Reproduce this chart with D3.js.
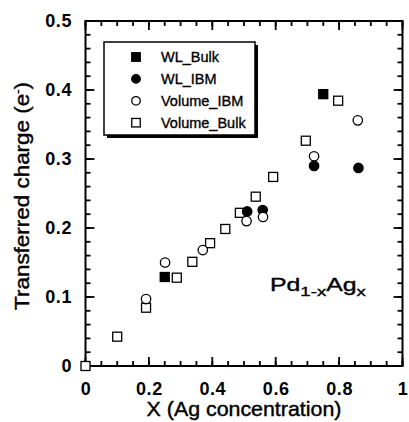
<!DOCTYPE html>
<html>
<head>
<meta charset="utf-8">
<script src="https://cdn.jsdelivr.net/npm/d3@7"></script>
<style>
  body { margin: 0; background: #fff; }
  text { font-family: Arial, "Liberation Sans", Helvetica, sans-serif; fill: #000; }
</style>
</head>
<body>
<svg id="chart" width="409" height="422"></svg>
<script>
// Transferred charge vs Ag concentration in Pd(1-x)Ag(x)
const wlBulkX = [0.25, 0.75];
const wlBulkY = [0.129, 0.394];

const wlIbmX = [0.51, 0.559, 0.721, 0.861];
const wlIbmY = [0.224, 0.226, 0.290, 0.287];

const volIbmX = [0.191, 0.251, 0.370, 0.508, 0.560, 0.721, 0.859];
const volIbmY = [0.097, 0.150, 0.168, 0.210, 0.216, 0.304, 0.356];

const volBulkX = [0, 0.100, 0.191, 0.288, 0.337, 0.393, 0.441, 0.487, 0.537, 0.592, 0.695, 0.797];
const volBulkY = [0, 0.0425, 0.0845, 0.128, 0.151, 0.178, 0.1986, 0.222, 0.2454, 0.274, 0.3265, 0.3845];

const xTicks = [0, 0.2, 0.4, 0.6, 0.8, 1];
const xTickLabels = ["0", "0.2", "0.4", "0.6", "0.8", "1"];
const yTicks = [0, 0.1, 0.2, 0.3, 0.4, 0.5];
const yTickLabels = ["0", "0.1", "0.2", "0.3", "0.4", "0.5"];

const legendNames = ["WL_Bulk", "WL_IBM", "Volume_IBM", "Volume_Bulk"];

// marker styles per series
const styles = {
  "WL_Bulk":     { shape: "square", fill: "#000" },
  "WL_IBM":      { shape: "circle", fill: "#000" },
  "Volume_IBM":  { shape: "circle", fill: "#fff" },
  "Volume_Bulk": { shape: "square", fill: "#fff" }
};

const series = [
  { name: "Volume_Bulk", xs: volBulkX, ys: volBulkY },
  { name: "WL_Bulk",     xs: wlBulkX,  ys: wlBulkY },
  { name: "WL_IBM",      xs: wlIbmX,   ys: wlIbmY },
  { name: "Volume_IBM",  xs: volIbmX,  ys: volIbmY }
];

const svg = d3.select("#chart");
const pL = 85.5, pR = 402.5, pT = 21, pB = 366;
const x = d3.scaleLinear().domain([0, 1]).range([pL, pR]);
const y = d3.scaleLinear().domain([0, 0.5]).range([pB, pT]);

function stretch(sel, target, ax, ay) {
  const w = sel.node().getComputedTextLength();
  const k = target / w;
  sel.attr("transform", `translate(${ax},${ay}) scale(${k},1) translate(${-ax},${-ay})`);
}

// inward tick marks on all four sides
const tickG = svg.append("g").attr("stroke", "#000").attr("stroke-width", 1.8);
function xTickMarks(values, len) {
  tickG.selectAll(null).data(values).enter().append("line")
    .attr("x1", d => x(d)).attr("x2", d => x(d)).attr("y1", pB).attr("y2", pB - len);
  tickG.selectAll(null).data(values).enter().append("line")
    .attr("x1", d => x(d)).attr("x2", d => x(d)).attr("y1", pT).attr("y2", pT + len);
}
function yTickMarks(values, len) {
  tickG.selectAll(null).data(values).enter().append("line")
    .attr("y1", d => y(d)).attr("y2", d => y(d)).attr("x1", pL).attr("x2", pL + len);
  tickG.selectAll(null).data(values).enter().append("line")
    .attr("y1", d => y(d)).attr("y2", d => y(d)).attr("x1", pR).attr("x2", pR - len);
}
xTickMarks(x.ticks(20), 5);
yTickMarks(y.ticks(25), 5);
xTickMarks(xTicks, 9);
yTickMarks(yTicks, 9);

// tick labels via d3 axes (labels only)
const xAxis = svg.append("g").attr("transform", `translate(0,${pB})`)
  .call(d3.axisBottom(x).tickValues(xTicks).tickFormat((d, i) => xTickLabels[i])
    .tickSize(0).tickPadding(16.5));
xAxis.select(".domain").remove();
xAxis.selectAll("text").attr("font-size", 18).attr("font-family", null)
  .attr("font-weight", "bold").style("letter-spacing", "0.6px");

const yAxis = svg.append("g").attr("transform", `translate(${pL},0)`)
  .call(d3.axisLeft(y).tickValues(yTicks).tickFormat((d, i) => yTickLabels[i])
    .tickSize(0).tickPadding(13.5));
yAxis.select(".domain").remove();
yAxis.selectAll("text").attr("font-size", 18).attr("font-family", null)
  .attr("font-weight", "bold").style("letter-spacing", "0.6px");

// plot frame
svg.append("rect")
  .attr("x", pL).attr("y", pT)
  .attr("width", pR - pL).attr("height", pB - pT)
  .attr("fill", "none").attr("stroke", "#000").attr("stroke-width", 2);

// markers
function drawMarker(g, shape, fill, cx, cy, size) {
  if (shape === "square") {
    g.append("rect")
      .attr("x", cx - size / 2).attr("y", cy - size / 2)
      .attr("width", size).attr("height", size)
      .attr("fill", fill).attr("stroke", "#000").attr("stroke-width", 1.3);
  } else {
    g.append("circle")
      .attr("cx", cx).attr("cy", cy).attr("r", size / 2)
      .attr("fill", fill).attr("stroke", "#000").attr("stroke-width", 1.3);
  }
}

const marks = svg.append("g");
series.forEach(s => {
  const st = styles[s.name];
  s.xs.forEach((xv, i) => {
    drawMarker(marks, st.shape, st.fill, x(xv), y(s.ys[i]), st.shape === "square" ? 9 : 9.4);
  });
});

// legend
const lg = svg.append("g");
const lx = 104, ly = 42, lw = 151, lh = 93;
lg.append("rect").attr("x", lx + 3).attr("y", ly + 3).attr("width", lw).attr("height", lh)
  .attr("fill", "#000");
lg.append("rect").attr("x", lx).attr("y", ly).attr("width", lw).attr("height", lh)
  .attr("fill", "#fff").attr("stroke", "#000").attr("stroke-width", 1.5);
legendNames.forEach((name, i) => {
  const ry = 57 + i * 21.9;
  const st = styles[name];
  drawMarker(lg, st.shape, st.fill, 136, ry, 8.5);
  lg.append("text").attr("x", 161).attr("y", ry + 5)
    .attr("font-size", 14.5).attr("stroke", "#000").attr("stroke-width", 0.35)
    .text(name);
});

// composition label
const comp = svg.append("text").attr("x", 270).attr("y", 290.7).attr("font-size", 18)
  .attr("stroke", "#000").attr("stroke-width", 0.35);
comp.append("tspan").text("Pd");
comp.append("tspan").attr("font-size", 13.5).attr("dy", 5.5).text("1-x");
comp.append("tspan").attr("dy", -5.5).text("Ag");
comp.append("tspan").attr("font-size", 13.5).attr("dy", 5.5).text("x");
stretch(comp, 96, 270, 290.7);

// axis titles
const xTitle = svg.append("text").attr("x", 244).attr("y", 416)
  .attr("text-anchor", "middle").attr("font-size", 20)
  .attr("stroke", "#000").attr("stroke-width", 0.4)
  .text("X (Ag concentration)");
stretch(xTitle, 195, 244, 416);

const yTitle = svg.append("text").attr("x", 0).attr("y", 0)
  .attr("text-anchor", "middle").attr("font-size", 19.5)
  .attr("stroke", "#000").attr("stroke-width", 0.4);
yTitle.append("tspan").text("Transferred charge (e");
yTitle.append("tspan").attr("font-size", 11).attr("dy", -8).text("-");
yTitle.append("tspan").attr("dy", 8).text(")");
{
  const w = yTitle.node().getComputedTextLength();
  const k = 228 / w;
  yTitle.attr("transform", `translate(29.3,196) rotate(-90) scale(${k},1)`);
}
</script>
</body>
</html>
